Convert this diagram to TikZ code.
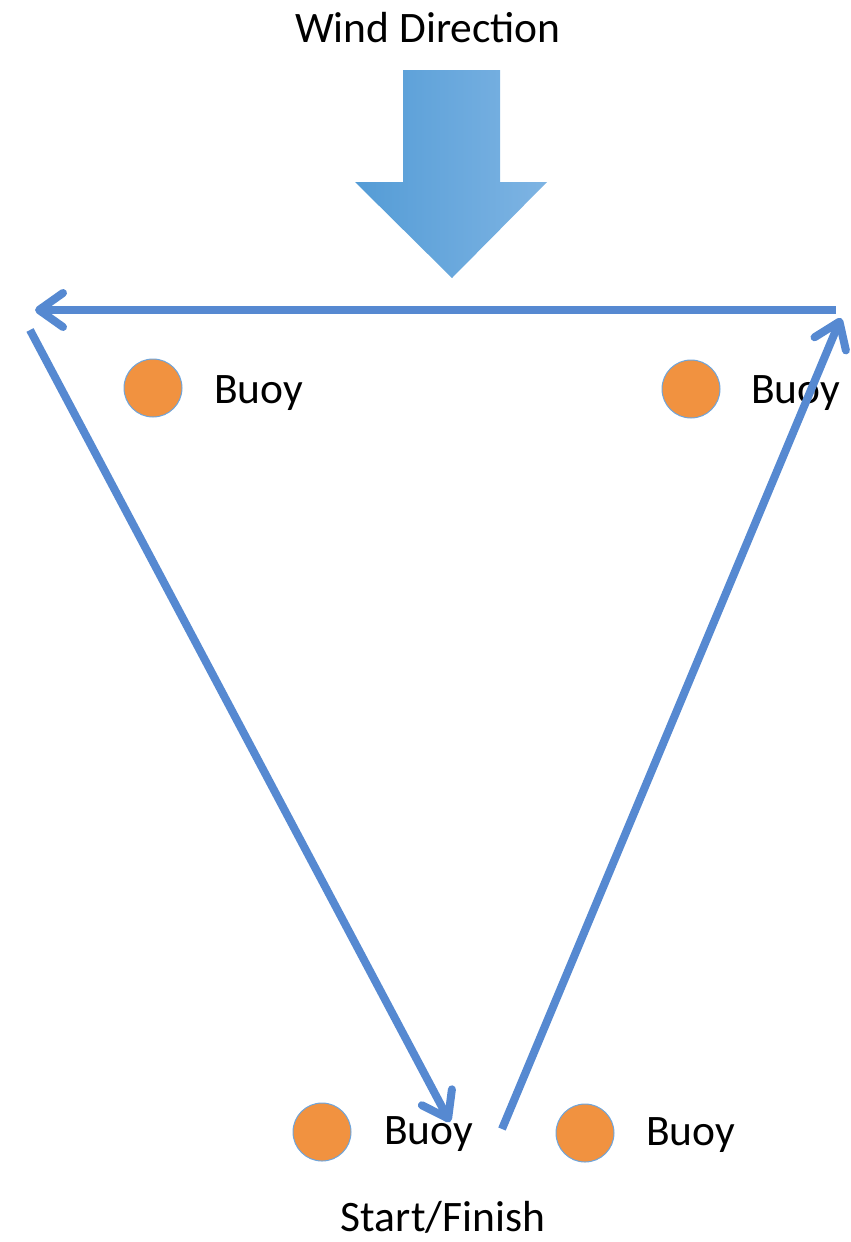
\documentclass[tikz,border=0pt]{standalone}
\usepackage{fontspec}
\setmainfont{Carlito}
\usetikzlibrary{arrows.meta}
\definecolor{course}{RGB}{86,137,209}
\definecolor{buoyfill}{RGB}{241,146,64}
\definecolor{buoyedge}{RGB}{110,165,220}
\definecolor{windleft}{RGB}{84,156,214}
\definecolor{windright}{RGB}{126,180,227}

\begin{document}
\begin{tikzpicture}[x=1pt,y=-1pt,
    buoy/.style={circle,fill=buoyfill,draw=buoyedge,line width=1pt,minimum size=58pt,inner sep=0pt},
    tag/.style={inner sep=0pt,font=\fontsize{43.5}{52}\selectfont},
    leg/.style={draw=course,line width=8pt,-{Straight Barb[round,length=24pt,width=34pt]}}]
  \useasboundingbox (0,0) rectangle (851,1242);
  % wind
  \node[tag,anchor=base] (wind) at (428,42) {Wind Direction};
  \shade[left color=windleft,right color=windright]
    (403,70) -- (500,70) -- (500,182) -- (547,182) -- (452,278) -- (355,182) -- (403,182) -- cycle;
  % buoys
  \node[buoy] (b1) at (153,388) {};
  \node[buoy] (b2) at (691,389) {};
  \node[buoy] (b3) at (322,1132) {};
  \node[buoy] (b4) at (585,1133) {};
  \node[tag,anchor=base west] (t1) at (214,403) {Buoy};
  \node[tag,anchor=base west] (t2) at (751,403) {Buoy};
  \node[tag,anchor=base west] (t3) at (384,1144) {Buoy};
  \node[tag,anchor=base west] (t4) at (646,1145) {Buoy};
  \node[tag,anchor=base] (start) at (443,1231) {Start/Finish};
  % course legs
  \coordinate (topR) at (836,310);
  \coordinate (topL) at (35,310);
  \coordinate (legA) at (30,330);
  \coordinate (legB) at (450,1122);
  \coordinate (legC) at (502,1129);
  \coordinate (legD) at (841,318);
  \path
    (topR) edge[leg] (topL)
    (legA) edge[leg] (legB)
    (legC) edge[leg] (legD);
\end{tikzpicture}
\end{document}
